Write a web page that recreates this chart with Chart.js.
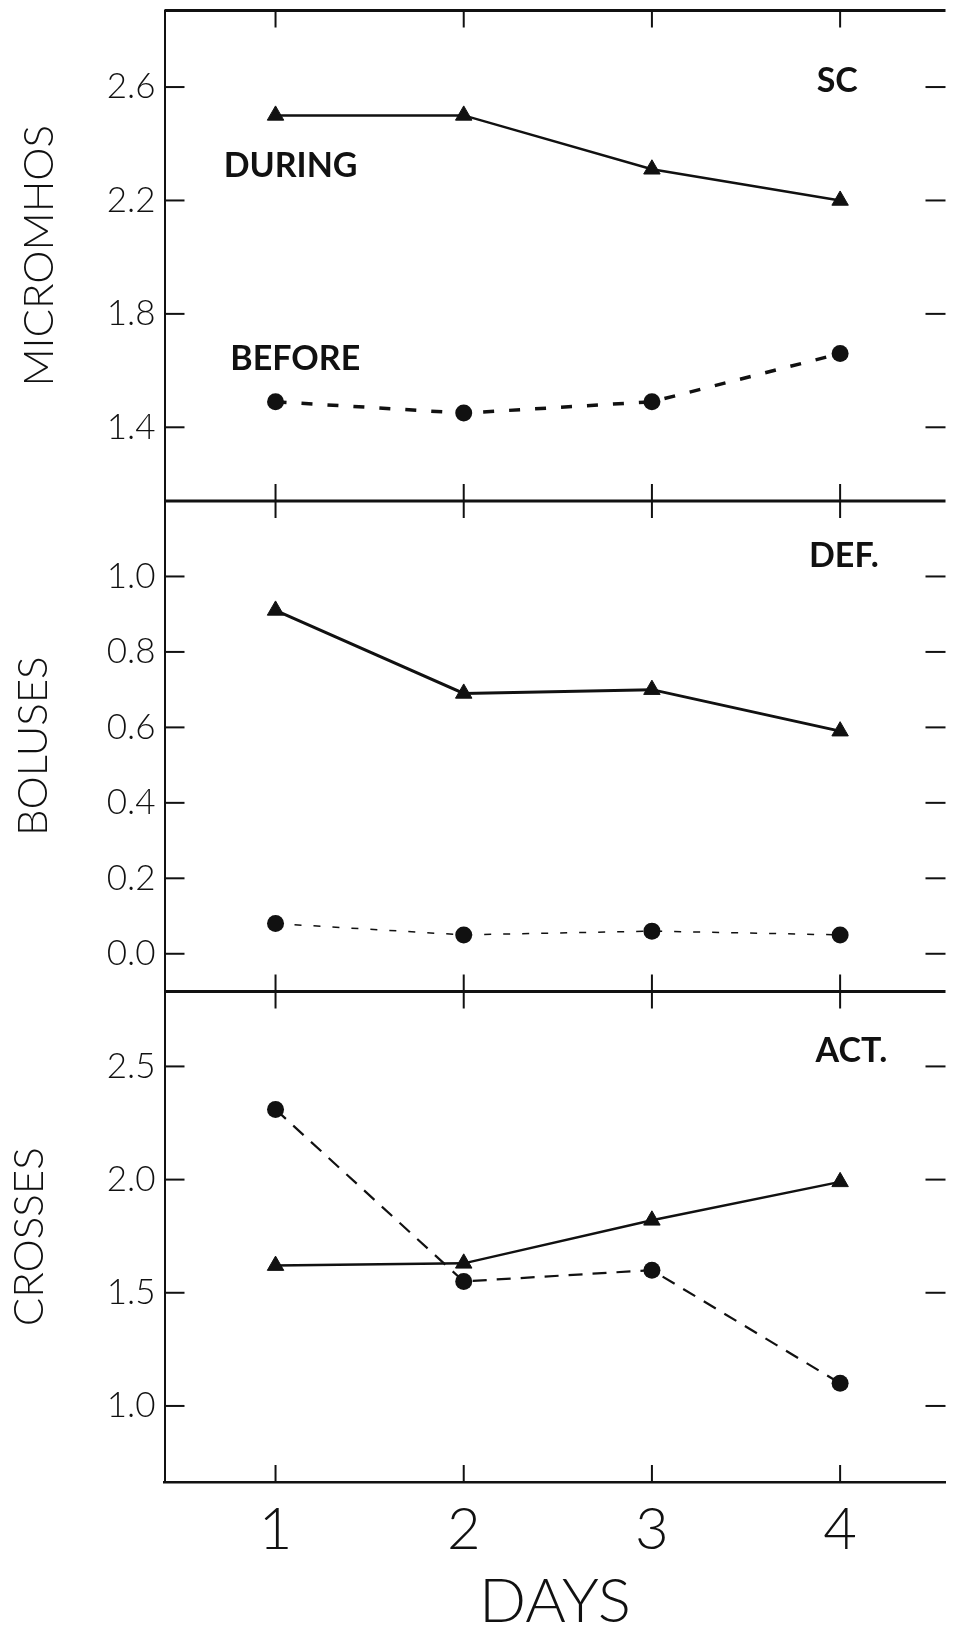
<!DOCTYPE html>
<html>
<head>
<meta charset="utf-8">
<script src="https://cdn.jsdelivr.net/npm/chart.js@4.4.1/dist/chart.umd.min.js"></script>
<style>
  html, body { margin: 0; padding: 0; background: #fff; overflow: hidden; }
  #wrap { position: relative; width: 956px; height: 1633px; }
</style>
</head>
<body>
<div id="wrap"><canvas id="myChart"></canvas></div>
<script>
var days = [1, 2, 3, 4];
var scDuring = [2.5, 2.5, 2.31, 2.2];
var scBefore = [1.49, 1.45, 1.49, 1.66];
var defDuring = [0.91, 0.69, 0.70, 0.59];
var defBefore = [0.08, 0.05, 0.06, 0.05];
var actDuring = [1.62, 1.63, 1.82, 1.99];
var actBefore = [2.31, 1.55, 1.60, 1.10];
var scTicks = [1.4, 1.8, 2.2, 2.6];
var defTicks = [0.0, 0.2, 0.4, 0.6, 0.8, 1.0];
var actTicks = [1.0, 1.5, 2.0, 2.5];

var ink = "#111";
var thin = "Lato, 'DejaVu Sans', sans-serif";

// panel labels, placed in the data units of their own panel
var notes = [
  {text: "DURING", axis: "ySC", x: 1.08, y: 2.32},
  {text: "BEFORE", axis: "ySC", x: 1.105, y: 1.64},
  {text: "SC", axis: "ySC", x: 3.985, y: 2.62},
  {text: "DEF.", axis: "yDEF", x: 4.02, y: 1.055},
  {text: "ACT.", axis: "yACT", x: 4.06, y: 2.57}
];

function pts(vals) {
  return days.map(function (d, i) { return {x: d, y: vals[i]}; });
}

function duringSet(vals, axis, w) {
  return {
    data: pts(vals), yAxisID: axis,
    borderColor: ink, borderWidth: w,
    pointStyle: "triangle", pointRadius: 9.5,
    pointBackgroundColor: ink, pointBorderColor: ink, pointBorderWidth: 1
  };
}

function beforeSet(vals, axis, w, dash) {
  return {
    data: pts(vals), yAxisID: axis,
    borderColor: ink, borderWidth: w, borderDash: dash,
    pointStyle: "circle", pointRadius: 8.5,
    pointBackgroundColor: ink, pointBorderColor: ink, pointBorderWidth: 0
  };
}

function panelAxis(title, min, max, ticks, titlePad) {
  return {
    type: "linear", position: "left", stack: "panels", stackWeight: 1,
    min: min, max: max,
    afterBuildTicks: function (s) {
      s.ticks = ticks.map(function (v) { return {value: v}; });
    },
    afterFit: function (s) {
      s.width = 164.5;
      s.paddingTop = 0;
      s.paddingBottom = 0;
    },
    grid: {display: true, drawOnChartArea: false, drawTicks: false},
    border: {display: true, color: ink, width: 2},
    ticks: {
      color: ink, padding: 9,
      font: {family: thin, size: 35, weight: 300, lineHeight: 1},
      callback: function (v) { return Number(v).toFixed(1); }
    },
    title: {
      display: true, text: title, color: ink,
      padding: {top: titlePad, bottom: 0},
      font: {family: thin, size: 42, weight: 300, lineHeight: 1}
    }
  };
}

function line(ctx, x1, y1, x2, y2) {
  ctx.beginPath();
  ctx.moveTo(x1, y1);
  ctx.lineTo(x2, y2);
  ctx.stroke();
}

var frame = {
  id: "frame",
  afterDatasetsDraw: function (chart) {
    var ctx = chart.ctx, a = chart.chartArea, xs = chart.scales.x;
    ctx.save();
    ctx.strokeStyle = ink;
    ["ySC", "yDEF", "yACT"].forEach(function (id) {
      var s = chart.scales[id];
      ctx.lineWidth = 3;
      line(ctx, a.left, s.top, a.right, s.top);
      ctx.lineWidth = 2;
      xs.ticks.forEach(function (t) {
        var px = xs.getPixelForValue(t.value);
        line(ctx, px, s.top, px, s.top + 17);
        line(ctx, px, s.bottom - 17, px, s.bottom);
      });
      s.ticks.forEach(function (t) {
        var py = s.getPixelForValue(t.value);
        line(ctx, a.left, py, a.left + 20, py);
        line(ctx, a.right - 20, py, a.right, py);
      });
    });
    ctx.fillStyle = ink;
    ctx.font = "bold 34px Lato, 'DejaVu Sans', sans-serif";
    ctx.textAlign = "center";
    ctx.textBaseline = "middle";
    notes.forEach(function (n) {
      ctx.fillText(n.text, xs.getPixelForValue(n.x), chart.scales[n.axis].getPixelForValue(n.y));
    });
    ctx.restore();
  }
};

// stacked left axes are laid out last-defined on top, so the bottom panel comes first
new Chart("myChart", {
  type: "line",
  data: {
    datasets: [
      duringSet(scDuring, "ySC", 2.5),
      beforeSet(scBefore, "ySC", 3.5, [11, 15]),
      duringSet(defDuring, "yDEF", 3),
      beforeSet(defBefore, "yDEF", 1.5, [7, 12]),
      duringSet(actDuring, "yACT", 2.5),
      beforeSet(actBefore, "yACT", 2.2, [14, 10])
    ]
  },
  options: {
    responsive: true,
    maintainAspectRatio: false,
    animation: false,
    layout: {padding: {top: 9, right: 0, bottom: 0, left: 0}},
    plugins: {legend: {display: false}, tooltip: {enabled: false}},
    scales: {
      x: {
        type: "linear", min: 0.41, max: 4.56,
        afterBuildTicks: function (s) {
          s.ticks = days.map(function (v) { return {value: v}; });
        },
        afterFit: function (s) {
          s.height = 151;
          s.paddingLeft = 0;
          s.paddingRight = 0;
        },
        grid: {display: true, drawOnChartArea: false, drawTicks: false},
        border: {display: true, color: ink, width: 2.5},
        ticks: {
          color: ink, padding: 19, maxRotation: 0, autoSkip: false,
          font: {family: thin, size: 58, weight: 300, lineHeight: 1}
        },
        title: {
          display: true, text: "DAYS", color: ink, padding: 0,
          font: {family: thin, size: 62, weight: 300, lineHeight: 1}
        }
      },
      yACT: panelAxis("CROSSES", 0.664, 2.831, actTicks, 8),
      yDEF: panelAxis("BOLUSES", -0.1, 1.2, defTicks, 12),
      ySC: panelAxis("MICROMHOS", 1.14, 2.87, scTicks, 18)
    }
  },
  plugins: [frame]
});
</script>
</body>
</html>
